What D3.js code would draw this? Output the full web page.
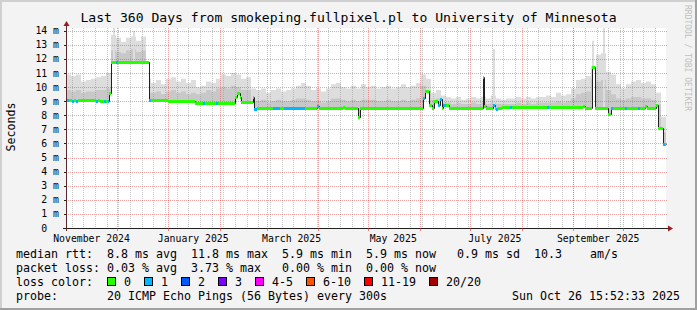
<!DOCTYPE html>
<html>
<head>
<meta charset="utf-8">
<script src="https://cdn.jsdelivr.net/npm/d3@7"></script>
<style>
  html, body { margin: 0; padding: 0; background: #f3f3f3; }
  svg { display: block; }
  text { font-family: "DejaVu Sans Mono", monospace; white-space: pre; fill: #000; }
</style>
</head>
<body>
<svg id="chart" width="697" height="310"></svg>
<script>
const title = "Last 360 Days from smokeping.fullpixel.pl to University of Minnesota";
const endTime = new Date(2025, 9, 26, 15, 52, 33);
const spanDays = 360;

// median rtt (ms), as steps: day offset from graph start, value, loss count
const medDays = [0, 1.8, 3.6, 4.8, 6.0, 7.2, 18.0, 19.2, 20.4, 22.8,
  24.0, 25.2, 25.8, 27.0, 30.0, 31.2, 49.8, 51.0, 61.2, 77.4,
  82.2, 83.4, 90.0, 91.2, 101.4, 102.6, 104.4, 105.0, 112.2, 112.8,
  114.6, 124.2, 128.4, 130.8, 143.4, 150.6, 151.8, 166.2, 167.4, 175.2,
  176.4, 214.2, 215.4, 217.8, 219.6, 220.8, 223.2, 224.4, 225.6, 226.2,
  228.0, 229.8, 250.2, 250.8, 252.0, 256.2, 257.4, 258.0, 259.2, 261.6,
  266.4, 267.6, 288.6, 289.8, 310.2, 311.4, 315.6, 317.4, 325.2, 327.0,
  328.2, 335.4, 336.6, 343.2, 344.4, 347.4, 348.6, 354.0, 355.2, 358.2,
  359.4];
const medValues = [9.10, 9.10, 9.05, 9.10, 9.05, 9.10, 9.05, 9.10, 9.00, 9.00,
  9.05, 9.05, 9.55, 11.80, 11.80, 11.80, 9.09, 9.09, 9.02, 8.88,
  8.88, 8.88, 8.88, 8.88, 9.33, 9.60, 9.30, 8.97, 9.33, 8.45,
  8.50, 8.50, 8.50, 8.50, 8.50, 8.65, 8.50, 8.62, 8.50, 7.90,
  8.50, 9.20, 9.75, 8.70, 8.50, 9.00, 8.70, 9.15, 8.50, 8.70,
  8.70, 8.50, 10.75, 8.65, 8.50, 8.70, 8.50, 8.45, 8.50, 8.60,
  8.60, 8.60, 8.60, 8.60, 8.65, 8.55, 11.45, 8.55, 8.10, 8.55,
  8.55, 8.55, 8.55, 8.55, 8.55, 8.65, 8.55, 8.70, 7.08, 5.96,
  5.96];
const medLoss = [1, 0, 1, 0, 1, 0, 1, 0, 0, 1,
  0, 1, 0, 0, 1, 0, 1, 0, 0, 0,
  1, 0, 1, 0, 0, 0, 0, 0, 0, 1,
  0, 1, 0, 1, 0, 1, 0, 0, 0, 0,
  0, 1, 0, 0, 0, 0, 1, 1, 0, 1,
  0, 0, 0, 0, 0, 1, 0, 1, 0, 0,
  1, 0, 1, 0, 0, 0, 0, 0, 0, 1,
  0, 1, 0, 1, 0, 0, 0, 0, 0, 1,
  0];

// smoke, one value per 3-day bin (ms)
const binDays = 3;
const smokeTop = [10.9, 10.8, 10.9, 10.4, 10.5, 10.6, 10.7, 10.8, 11.0,
  13.7, 13.5, 13.2, 13.5, 13.6, 13.3, 13.6, 10.6,
  10.3, 10.5, 10.2, 10.6, 10.7, 10.4, 10.6, 10.3, 10.5,
  10.0, 10.1, 10.4, 10.3, 10.6, 10.9, 10.8, 11.0, 10.9, 10.6, 10.7, 9.9,
  9.8, 9.9, 9.6, 9.8, 9.9, 9.7, 9.8, 9.9, 10.1,
  10.3, 10.1, 9.8, 9.9, 9.7, 9.9, 10.2, 10.3, 10.0, 9.9, 10.1, 9.9,
  10.2, 10.0, 10.1, 9.9, 10.0, 10.1, 9.9, 10.0, 10.2, 10.0, 10.1, 10.3,
  10.9, 10.6, 9.6, 9.8, 9.4, 9.3, 9.2, 9.3, 9.1, 9.2, 9.3, 9.2,
  9.3, 9.2, 9.4, 9.2, 9.1, 9.2, 9.2, 9.3, 9.2, 9.3,
  9.2, 9.3, 9.3, 9.4, 9.3, 9.6, 9.4, 9.5, 9.9, 10.5,
  10.6, 10.8, 11.5, 12.3, 12.4, 11.1, 10.9, 10.2, 9.9, 10.2, 10.4,
  10.5, 10.3, 10.4, 10.2, 9.6, 7.9];
const smokeMid = [9.8, 9.7, 9.8, 9.6, 9.7, 9.7, 9.8, 9.8, 9.9,
  12.6, 12.5, 12.4, 12.6, 12.7, 12.5, 12.6, 9.6,
  9.6, 9.7, 9.5, 9.7, 9.8, 9.6, 9.7, 9.5, 9.6,
  9.5, 9.6, 9.8, 9.7, 9.9, 10.0, 9.9, 10.1, 10.0, 9.8, 9.8, 9.0,
  9.0, 9.1, 8.9, 9.0, 9.1, 9.0, 9.0, 9.1, 9.2,
  9.2, 9.1, 9.0, 9.0, 8.9, 9.0, 9.2, 9.2, 9.1, 9.0, 9.1, 9.0,
  9.1, 9.1, 9.1, 9.0, 9.0, 9.1, 9.0, 9.0, 9.1, 9.0, 9.1, 9.2,
  10.1, 9.8, 9.1, 9.2, 8.9, 8.9, 8.8, 8.9, 8.8, 8.8, 8.9, 8.8,
  8.9, 8.8, 8.9, 8.8, 8.8, 8.8, 8.8, 8.9, 8.8, 8.9,
  8.8, 8.9, 8.9, 8.9, 8.9, 9.0, 8.9, 9.0, 9.2, 9.5,
  9.6, 9.7, 10.6, 10.4, 10.5, 9.8, 9.5, 9.2, 9.1, 9.2, 9.3,
  9.3, 9.2, 9.2, 9.1, 8.8, 6.8];

// thin smoke spikes
const spikeDays = [28.2, 40.2, 256.2, 315.6, 322.2];
const spikeTops = [14.2, 14.0, 12.7, 13.3, 14.2];

const yTicks = [0, 1, 2, 3, 4, 5, 6, 7, 8, 9, 10, 11, 12, 13, 14];
const monthLabels = ["November 2024", "January 2025", "March 2025", "May 2025", "July 2025", "September 2025"];
const monthLabelDates = [new Date(2024, 10, 1), new Date(2025, 0, 1), new Date(2025, 2, 1),
  new Date(2025, 4, 1), new Date(2025, 6, 1), new Date(2025, 8, 1)];

const lossLabels = ["0", "1", "2", "3", "4-5", "6-10", "11-19", "20/20"];
const lossColors = ["#26ff00", "#00b8ff", "#0059ff", "#7e00ff", "#ff00ff", "#ff5500", "#ff0000", "#a10000"];

const statRows = [
  "median rtt:  8.8 ms avg  11.8 ms max  5.9 ms min  5.9 ms now   0.9 ms sd  10.3    am/s",
  "packet loss: 0.03 % avg  3.73 % max   0.00 % min  0.00 % now"
];
const probeText = "probe:       20 ICMP Echo Pings (56 Bytes) every 300s";
const stampText = "Sun Oct 26 15:52:33 2025";

const dayMs = 864e5;
const startTime = new Date(+endTime - spanDays * dayMs);
const toDate = d => new Date(+startTime + d * dayMs);

const svg = d3.select("#chart");
const [plotL, plotR, plotT, plotB] = [66, 666, 28, 228];

const x = d3.scaleTime().domain([startTime, endTime]).range([plotL, plotR]);
const y = d3.scaleLinear().domain([0, 14.2]).range([plotB, plotT]);

// background + shading frame
svg.append("rect").attr("width", 697).attr("height", 310).attr("fill", "#f3f3f3");
svg.append("path").attr("d", "M1,310V1H697").attr("fill", "none")
    .attr("stroke", "#d0d0d0").attr("stroke-width", 2);
svg.append("path").attr("d", "M0,309H696V0").attr("fill", "none")
    .attr("stroke", "#a0a0a0").attr("stroke-width", 2);

svg.append("rect").attr("x", plotL).attr("y", plotT)
    .attr("width", plotR - plotL).attr("height", plotB - plotT).attr("fill", "#fff");

// smoke
const medianAt = d => medValues[Math.max(0, d3.bisectRight(medDays, d) - 1)];
const edges = Array.from(new Set([...smokeTop.map((_, k) => k * binDays), ...medDays]))
    .sort((a, b) => a - b);
const smokePts = edges.map(d => {
    const k = Math.min(smokeTop.length - 1, Math.floor(d / binDays + 1e-9));
    const m = medianAt(d);
    return {d, m, top: Math.max(m, smokeTop[k]), mid: Math.max(m, smokeMid[k])};
});
smokePts.push(Object.assign({}, smokePts[smokePts.length - 1], {d: spanDays}));

const smokeArea = key => d3.area()
    .curve(d3.curveStepAfter)
    .x(p => x(toDate(p.d)))
    .y0(p => y(p.m))
    .y1(p => y(p[key]));

const plot = svg.append("g");
plot.append("path").datum(smokePts).attr("d", smokeArea("top")).attr("fill", "#dddddd");
plot.append("path").datum(smokePts).attr("d", smokeArea("mid")).attr("fill", "#c8c8c8");
plot.selectAll("rect.spike").data(spikeDays).enter().append("rect")
    .attr("class", "spike")
    .attr("x", (d) => x(toDate(d)))
    .attr("width", (d) => x(toDate(d + 1.2)) - x(toDate(d)))
    .attr("y", (d, i) => y(spikeTops[i]))
    .attr("height", (d, i) => y(medianAt(d)) - y(spikeTops[i]))
    .attr("fill", "#dddddd");

// grid
const monthStarts = d3.timeMonth.range(d3.timeMonth.ceil(toDate(2)), endTime);
const grid = svg.append("g").attr("stroke-dasharray", "1,1").attr("shape-rendering", "crispEdges");
grid.selectAll("line.minor").data(d3.timeMonday.range(startTime, endTime)).enter().append("line")
    .attr("x1", d => Math.round(x(d)) + 0.5).attr("x2", d => Math.round(x(d)) + 0.5)
    .attr("y1", plotT).attr("y2", plotB)
    .attr("stroke", "rgba(143,143,143,0.5)");
grid.selectAll("line.major").data(monthStarts).enter().append("line")
    .attr("x1", d => Math.round(x(d)) + 0.5).attr("x2", d => Math.round(x(d)) + 0.5)
    .attr("y1", plotT).attr("y2", plotB)
    .attr("stroke", "rgba(222,48,48,0.45)");
grid.selectAll("line.h").data(yTicks.filter(v => v > 0)).enter().append("line")
    .attr("x1", plotL).attr("x2", plotR + 2)
    .attr("y1", v => Math.round(y(v)) + 0.5).attr("y2", v => Math.round(y(v)) + 0.5)
    .attr("stroke", "rgba(222,48,48,0.45)");

// median line
const px = d => Math.round(x(toDate(d))) + 0.5;
const medPts = medDays.map((d, i) => [d, medValues[i]]);
medPts.push([spanDays, medValues[medValues.length - 1]]);
svg.append("path").datum(medPts)
    .attr("d", d3.line().curve(d3.curveStepAfter).x(p => px(p[0])).y(p => Math.round(y(p[1])) + 0.5))
    .attr("fill", "none").attr("stroke", "#202020").attr("stroke-width", 1);

svg.append("g").attr("shape-rendering", "crispEdges")
    .selectAll("rect").data(medDays).enter().append("rect")
    .attr("x", d => x(toDate(d)))
    .attr("width", (d, i) => x(toDate(i + 1 < medDays.length ? medDays[i + 1] : spanDays)) - x(toDate(d)))
    .attr("y", (d, i) => Math.round(y(medValues[i])) - 1)
    .attr("height", 3)
    .attr("fill", (d, i) => lossColors[medLoss[i]]);

// axes
svg.append("line").attr("x1", plotL - 3).attr("x2", plotR + 3)
    .attr("y1", plotB + 0.5).attr("y2", plotB + 0.5).attr("stroke", "#202020");
svg.append("line").attr("x1", plotL + 0.5).attr("x2", plotL + 0.5)
    .attr("y1", plotB + 3).attr("y2", plotT - 3).attr("stroke", "#5a2a2a");
svg.append("path").attr("d", `M${plotR + 2},${plotB - 2.5}L${plotR + 7},${plotB + 0.5}L${plotR + 2},${plotB + 3.5}Z`)
    .attr("fill", "#9a1a1a");
svg.append("path").attr("d", `M${plotL - 2.5},${plotT - 2}L${plotL + 0.5},${plotT - 7}L${plotL + 3.5},${plotT - 2}Z`)
    .attr("fill", "#9a1a1a");

// tick marks
svg.append("g").selectAll("line").data(yTicks).enter().append("line")
    .attr("x1", plotL - 2).attr("x2", plotL)
    .attr("y1", v => Math.round(y(v)) + 0.5).attr("y2", v => Math.round(y(v)) + 0.5)
    .attr("stroke", "#202020");
svg.append("g").selectAll("line").data(monthStarts).enter().append("line")
    .attr("x1", d => Math.round(x(d)) + 0.5).attr("x2", d => Math.round(x(d)) + 0.5)
    .attr("y1", plotB).attr("y2", plotB + 3)
    .attr("stroke", "rgba(222,48,48,0.6)");

// y labels
svg.append("g").selectAll("text").data(yTicks).enter().append("text")
    .attr("x", 59).attr("y", v => y(v) + 3.5)
    .attr("text-anchor", "end").attr("font-size", 9.8)
    .text(v => v === 0 ? "0  " : `${v} m`);

// x labels, centred half a month after the month start
svg.append("g").selectAll("text").data(monthLabels).enter().append("text")
    .attr("x", (s, i) => x(d3.timeDay.offset(monthLabelDates[i], 15)))
    .attr("y", 241.5)
    .attr("text-anchor", "middle").attr("font-size", 9.8)
    .text(s => s);

// titles
svg.append("text").attr("x", 348.5).attr("y", 22).attr("text-anchor", "middle")
    .attr("font-size", 13.1).text(title);
svg.append("text").attr("transform", "translate(15,127) rotate(-90)")
    .attr("text-anchor", "middle").attr("font-size", 11.6).text("Seconds");
svg.append("text").attr("transform", "translate(685,5) rotate(90)")
    .attr("font-size", 8).style("fill", "#c0c0c0").text("RRDTOOL / TOBI OETIKER");

// legend
const legendX = 16;
const charW = 7;
svg.append("g").selectAll("text").data(statRows).enter().append("text")
    .attr("x", legendX).attr("y", (s, i) => 258 + i * 14)
    .attr("font-size", 11.63).text(s => s);

const lossRow = svg.append("g");
lossRow.append("text").attr("x", legendX).attr("y", 286).attr("font-size", 11.63).text("loss color:");
let cur = 107;
lossLabels.forEach((lab, i) => {
    lossRow.append("rect").attr("x", cur + 0.5).attr("y", 277.5).attr("width", 8).attr("height", 8)
        .attr("fill", lossColors[i]).attr("stroke", "#000").attr("stroke-width", 1);
    lossRow.append("text").attr("x", cur + 17).attr("y", 286).attr("font-size", 11.63).text(lab);
    cur = cur + 17 + lab.length * charW + 13;
});

svg.append("text").attr("x", legendX).attr("y", 300).attr("font-size", 11.63).text(probeText);
svg.append("text").attr("x", 680).attr("y", 300).attr("text-anchor", "end")
    .attr("font-size", 11.63).text(stampText);
</script>
</body>
</html>
